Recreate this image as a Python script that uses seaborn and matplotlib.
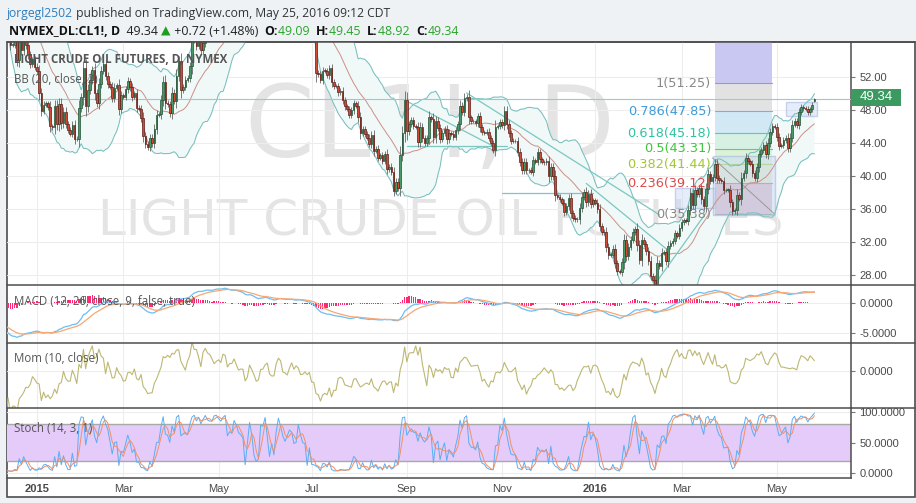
import numpy as np
import pandas as pd
import matplotlib
matplotlib.use("Agg")
import matplotlib.pyplot as plt
import seaborn as sns
from matplotlib.patches import Rectangle
from matplotlib.lines import Line2D
from matplotlib.text import Annotation

# ------------------------------------------------------------------ data
close_2014_10 = [90.73, 91.01, 89.74, 90.34, 88.85, 87.31, 85.77, 85.82, 85.74, 81.84, 81.78, 82.70,
                 82.75, 82.71, 82.49, 80.52, 82.09, 81.01, 81.00, 81.42, 82.20, 81.12, 80.54]
close_2014_11 = [78.78, 77.19, 78.68, 77.91, 78.65, 77.40, 77.94, 77.18, 74.21, 75.82, 75.64, 74.61,
                 74.58, 75.58, 76.51, 75.78, 74.09, 73.69, 66.15]
close_2014_12 = [69.00, 66.88, 67.38, 66.81, 65.84, 63.05, 63.82, 60.94, 59.95, 57.81, 55.91, 55.93,
                 56.47, 54.11, 57.13, 55.26, 57.12, 55.84, 54.73, 53.61, 54.12, 53.27]
close_2015_01 = [52.69, 50.04, 47.93, 48.65, 48.79, 48.36, 46.07, 45.89, 48.48, 46.25, 48.69, 46.39,
                 47.78, 46.31, 45.59, 45.15, 46.23, 44.45, 44.53, 48.24]
close_2015_02 = [49.57, 53.05, 48.45, 50.48, 51.69, 52.86, 50.02, 48.84, 51.21, 52.78, 53.53, 52.14,
                 51.16, 50.81, 49.45, 50.72, 51.00, 48.17, 49.76]
close_2015_03 = [49.59, 50.52, 51.53, 50.76, 49.61, 50.00, 48.29, 48.17, 47.05, 44.84, 43.88, 43.46,
                 44.66, 43.96, 45.72, 47.45, 47.51, 49.21, 51.43, 48.87, 48.68, 47.60]
close_2015_04 = [50.09, 49.14, 52.14, 53.98, 50.42, 50.79, 51.64, 51.91, 53.29, 56.39, 56.71, 55.74,
                 56.38, 55.26, 56.16, 57.74, 57.15, 56.99, 57.06, 58.58, 59.63]
close_2015_05 = [59.15, 58.93, 60.40, 60.93, 58.94, 59.39, 59.25, 60.75, 60.50, 59.88, 59.69, 59.43,
                 57.26, 58.98, 60.72, 59.72, 58.03, 57.51, 57.68, 60.30]
close_2015_06 = [60.20, 61.26, 59.64, 58.00, 59.13, 58.14, 60.14, 61.43, 60.77, 59.96, 59.52, 59.97,
                 60.45, 60.45, 59.61, 59.68, 61.01, 60.27, 59.70, 59.63, 58.33, 59.47]
close_2015_07 = [56.96, 56.93, 52.53, 52.33, 51.65, 52.78, 52.74, 52.20, 53.04, 51.41, 50.91, 50.89,
                 50.15, 50.36, 49.19, 48.45, 48.14, 47.39, 47.98, 48.79, 48.52, 47.12]
close_2015_08 = [45.17, 45.74, 45.15, 44.66, 43.87, 44.96, 43.08, 43.30, 42.23, 42.50, 41.87, 42.62,
                 40.80, 41.14, 40.45, 38.24, 39.31, 38.60, 42.56, 45.22, 49.20]
close_2015_09 = [45.41, 46.25, 46.75, 46.05, 45.94, 44.15, 45.92, 44.63, 44.00, 44.59, 47.15, 46.90,
                 44.68, 46.68, 45.83, 44.48, 45.22, 45.70, 44.43, 45.23, 45.09]
close_2015_10 = [44.74, 45.54, 46.26, 48.53, 47.81, 49.43, 49.63, 47.10, 46.66, 46.64, 46.38, 47.26,
                 45.89, 45.29, 45.20, 45.38, 44.60, 43.98, 43.20, 45.94, 46.06, 46.59]
close_2015_11 = [46.14, 47.90, 46.32, 45.20, 44.29, 44.21, 44.21, 42.93, 41.75, 40.74, 41.74, 40.67,
                 40.75, 40.54, 41.90, 41.75, 42.87, 42.04, 41.71, 41.65]
close_2015_12 = [41.85, 39.94, 41.08, 39.97, 37.65, 37.51, 37.16, 36.76, 35.62, 36.31, 37.35, 35.52,
                 34.95, 34.73, 34.74, 36.14, 37.50, 38.10, 36.81, 37.87, 36.60, 37.04]
close_2016_01 = [36.76, 35.97, 33.97, 33.27, 33.16, 31.41, 30.44, 30.48, 31.20, 29.42, 28.46, 28.35,
                 29.53, 32.19, 30.34, 31.45, 32.30, 33.22, 33.62]
close_2016_02 = [31.62, 29.88, 32.28, 31.72, 30.89, 29.69, 27.94, 27.45, 26.21, 29.44, 29.04, 30.66,
                 30.77, 29.64, 31.48, 31.87, 32.15, 33.07, 32.78, 33.75]
close_2016_03 = [34.40, 34.66, 34.57, 35.92, 37.90, 36.50, 38.29, 37.84, 38.50, 37.18, 36.34, 38.46,
                 40.20, 39.44, 39.91, 41.45, 39.79, 39.46, 39.39, 38.28, 38.32, 38.34]
close_2016_04 = [36.79, 35.70, 35.89, 37.75, 37.26, 39.72, 40.36, 42.17, 41.76, 41.50, 40.36, 39.78,
                 41.08, 42.63, 43.18, 43.73, 42.64, 44.04, 45.33, 46.03, 45.92]
close_2016_05 = [44.78, 43.65, 43.78, 44.32, 44.66, 43.44, 44.66, 46.23, 46.70, 46.21, 47.72, 48.31,
                 48.19, 48.16, 47.75, 48.08, 48.62, 49.34]

last_ohlc = {"O": 49.09, "H": 49.45, "L": 48.92, "C": 49.34}
change_text = "+0.72 (+1.48%)"

holidays = ["2014-11-27", "2014-12-25", "2015-01-01", "2015-01-19", "2015-02-16", "2015-04-03",
            "2015-05-25", "2015-07-03", "2015-09-07", "2015-11-26", "2015-12-25", "2016-01-01",
            "2016-01-18", "2016-02-15", "2016-03-25"]

tick_dates = ["2015-01-02", "2015-03-02", "2015-05-01", "2015-07-01", "2015-09-01", "2015-11-02",
              "2016-01-04", "2016-03-01", "2016-05-02"]
tick_labels = ["2015", "Mar", "May", "Jul", "Sep", "Nov", "2016", "Mar", "May"]
price_ticks = [28, 32, 36, 40, 44, 48, 52]

fib_low, fib_high = 35.38, 51.2455
fib_levels = [0, 0.236, 0.382, 0.5, 0.618, 0.786, 1]
fib_span = ("2016-03-22", "2016-04-28")

# ------------------------------------------------------------------ build series
closes = np.array(close_2014_10 + close_2014_11 + close_2014_12 + close_2015_01 + close_2015_02 +
                  close_2015_03 + close_2015_04 + close_2015_05 + close_2015_06 + close_2015_07 +
                  close_2015_08 + close_2015_09 + close_2015_10 + close_2015_11 + close_2015_12 +
                  close_2016_01 + close_2016_02 + close_2016_03 + close_2016_04 + close_2016_05)
dates = pd.bdate_range("2014-10-01", "2016-05-25", freq="C", holidays=holidays)
assert len(dates) == len(closes)
origin = dates.get_loc(pd.Timestamp("2015-01-02"))
x = np.arange(len(closes)) - origin


def xi(d):
    return dates.get_loc(pd.Timestamp(d)) - origin


opens = np.r_[closes[0], closes[:-1]]
opens[-1] = last_ohlc["O"]
body_top = np.maximum(opens, closes)
body_bot = np.minimum(opens, closes)
wick_pad = 0.25 + 0.2 * (body_top - body_bot)
highs = body_top + wick_pad
lows = body_bot - wick_pad
highs[-1], lows[-1] = last_ohlc["H"], last_ohlc["L"]

s = pd.Series(closes)
basis = s.rolling(20).mean()
dev = s.rolling(20).std(ddof=0)
upper, lower = basis + 2 * dev, basis - 2 * dev
ema12 = s.ewm(span=12, adjust=False).mean()
ema26 = s.ewm(span=26, adjust=False).mean()
macd = ema12 - ema26
signal = macd.ewm(span=9, adjust=False).mean()
hist = macd - signal
mom = s - s.shift(10)
ll = pd.Series(lows).rolling(14).min()
hh = pd.Series(highs).rolling(14).max()
k = 100 * (s - ll) / (hh - ll)
d = k.rolling(3).mean()

df = pd.DataFrame({"x": x, "close": closes, "basis": basis, "upper": upper, "lower": lower,
                   "macd": macd, "signal": signal, "hist": hist, "mom": mom, "k": k, "d": d})

# ------------------------------------------------------------------ figure
sns.set_theme(style="white")
plt.rcParams["font.family"] = ["Open Sans", "DejaVu Sans"]

W, H = 916, 503
fig = plt.figure(figsize=(W / 100, H / 100), dpi=100, facecolor="#EEF2F5")


def prect(x0, y0, x1, y1):
    return [x0 / W, 1 - y1 / H, (x1 - x0) / W, (y1 - y0) / H]


fig.patches.append(Rectangle((7 / W, 1 - 497 / H), 908 / W, 455 / H, transform=fig.transFigure,
                             facecolor="white", edgecolor="#4D4D4D", lw=1.2, zorder=-10))

XL = (-13.5, 367.5)
GRID = "#EDEDED"
AXC = "#4A4A4A"
tick_x = [xi(t) for t in tick_dates]

ax_main = fig.add_axes(prect(7, 42, 851, 285))
ax_macd = fig.add_axes(prect(7, 285, 851, 343))
ax_mom = fig.add_axes(prect(7, 343, 851, 408))
ax_sto = fig.add_axes(prect(7, 408, 851, 478))

for a in (ax_main, ax_macd, ax_mom, ax_sto):
    a.set_zorder(1)
    a.set_facecolor("none")
    a.set_xlim(*XL)
    a.set_xticks(tick_x)
    a.grid(True, color=GRID, lw=0.8, zorder=0)
    a.set_axisbelow(True)
    for sp in ("top", "bottom", "left"):
        a.spines[sp].set_visible(False)
    a.spines["right"].set_color("#4D4D4D")
    a.spines["right"].set_linewidth(1.1)
    a.yaxis.tick_right()
    a.tick_params(axis="y", length=3, width=0.8, color="#777777", pad=3, labelsize=8,
                  labelcolor=AXC, right=True, left=False)
    a.tick_params(axis="x", length=0)
for a in (ax_main, ax_macd, ax_mom):
    a.set_xticklabels([])

# ---------------- main pane
ax = ax_main
ax.text(0.501, 0.638, "CL1!, D", transform=ax.transAxes, ha="center", va="center",
        fontsize=72, color="#E4E4E4", family="DejaVu Sans", zorder=0.5)
ax.text(0.514, 0.262, "LIGHT CRUDE OIL FUTURES", transform=ax.transAxes, ha="center", va="center",
        fontsize=36, color="#E4E4E4", family="DejaVu Sans", zorder=0.5)

# fibonacci retracement drawing
fx0, fx1 = xi(fib_span[0]), xi(fib_span[1])
fib_prices = [fib_low + lv * (fib_high - fib_low) for lv in fib_levels]
fib_fill = ["#DBBFCB", "#E3EDD3", "#DCF1D9", "#D6F0E4", "#D2E8F5", "#E2E2E2"]
fib_line = ["#9E9E9E", "#E57373", "#B3D05A", "#66CC66", "#4DD0B0", "#64B5F6", "#9E9E9E"]
fib_text = ["#888888", "#E04848", "#A2C733", "#3DC63D", "#2EC4A0", "#3D9BDB", "#888888"]
for i in range(len(fib_levels) - 1):
    ax.fill_between([fx0, fx1], fib_prices[i], fib_prices[i + 1], color=fib_fill[i], lw=0, zorder=1.2)
ax.fill_between([fx0, fx1], fib_high, 60, color="#C8C8F2", lw=0, zorder=1.2)
for lv, p, lc, tc in zip(fib_levels, fib_prices, fib_line, fib_text):
    ax.plot([fx0, fx1], [p, p], color=lc, lw=0.8, zorder=1.3)
    ax.text(fx0 - 1.6, p, f"{lv:g}({p:.2f})", ha="right", va="center", fontsize=9.3,
            color=tc, family="DejaVu Sans", zorder=6)

# bollinger bands
ax.fill_between(df["x"], df["lower"], df["upper"], color="#F0F8F8", lw=0, zorder=1)
sns.lineplot(data=df, x="x", y="upper", ax=ax, color="#78BFBF", lw=0.75, zorder=2)
sns.lineplot(data=df, x="x", y="lower", ax=ax, color="#78BFBF", lw=0.75, zorder=2)
sns.lineplot(data=df, x="x", y="basis", ax=ax, color="#CC9088", lw=0.7, zorder=2)

# user drawings (rectangles and trend lines)
rects = [("2016-02-25", "2016-03-22", 36.12, 38.55), ("2016-03-21", "2016-04-29", 35.27, 42.42),
         ("2016-05-06", "2016-05-26", 47.27, 48.97)]
for d0, d1, p0, p1 in rects:
    xa = xi(d0)
    xb = xi(d1) if pd.Timestamp(d1) <= dates[-1] else xi(dates[-1].strftime("%Y-%m-%d")) + 1
    ax.add_patch(Rectangle((xa, p0), xb - xa, p1 - p0, facecolor="#C9D8F4", alpha=0.45,
                           edgecolor="#8FA6DA", lw=1.0, zorder=1.5))
ax.plot([xi("2016-03-21"), xi("2016-04-29")], [42.2, 35.4], color="#9A9A9A", lw=0.7, zorder=1.6)
trend = [(("2015-08-31", 49.2), ("2015-10-26", 43.76)),
         (("2015-09-01", 43.64), ("2015-11-04", 43.64)),
         (("2015-10-09", 50.06), ("2016-02-16", 35.3)),
         (("2015-11-02", 37.88), ("2015-12-31", 37.88)),
         (("2015-12-28", 39.1), ("2016-02-19", 31.2)),
         (("2016-02-11", 26.9), ("2016-03-16", 35.5))]
for (d0, p0), (d1, p1) in trend:
    ax.plot([xi(d0), xi(d1)], [p0, p1], color="#7CC7C1", lw=0.9, zorder=2.5)

# candles
up = closes >= opens
h = np.maximum(body_top - body_bot, 0.06)
ax.vlines(x, lows, highs, color="#666666", lw=0.6, zorder=3)
ax.bar(x[up], h[up], bottom=body_bot[up], width=0.72, color="#4A9A68", edgecolor="#1F5234",
       lw=0.5, zorder=4)
ax.bar(x[~up], h[~up], bottom=body_bot[~up], width=0.72, color="#D14A36", edgecolor="#601B12",
       lw=0.5, zorder=4)

# last price line
ax.axhline(closes[-1], color="#8FD0CA", lw=0.8, zorder=2.6)

ax.text(0.0083, 0.926, "LIGHT CRUDE OIL FUTURES, D, NYMEX", transform=ax.transAxes, fontsize=8.3,
        fontweight="bold", color="#555555", va="center", zorder=7)
ax.text(0.0083, 0.844, "BB (20, close, 2)", transform=ax.transAxes, fontsize=8.3,
        color="#555555", va="center", zorder=7)
ax.set_xlim(*XL)
ax.set_ylim(26.79, 56.24)
ax.set_yticks(price_ticks)
ax.set_yticklabels([f"{p:.2f}" for p in price_ticks], family="Liberation Sans")
ax.set_xlabel(""); ax.set_ylabel("")

# ---------------- MACD pane
ax = ax_macd
ax.bar(df["x"], df["hist"], width=0.6, color="#FF2A72", lw=0, zorder=2)
sns.lineplot(data=df, x="x", y="macd", ax=ax, color="#6CBEF4", lw=0.9, zorder=3)
sns.lineplot(data=df, x="x", y="signal", ax=ax, color="#F6A774", lw=0.9, zorder=3)
ax.text(0.0083, 0.724, "MACD (12, 26, close, 9, false, true)", transform=ax.transAxes, fontsize=8.3,
        color="#555555", va="center", zorder=7)
ax.set_xlim(*XL)
ax.set_ylim(-6.67, 3.0)
ax.set_yticks([0, -5])
ax.set_yticklabels(["0.0000", "-5.0000"], family="Liberation Sans")
ax.set_xlabel(""); ax.set_ylabel("")

# ---------------- Momentum pane
ax = ax_mom
sns.lineplot(data=df, x="x", y="mom", ax=ax, color="#BDB874", lw=0.8, zorder=3)
ax.text(0.0083, 0.754, "Mom (10, close)", transform=ax.transAxes, fontsize=8.3,
        color="#555555", va="center", zorder=7)
ax.set_xlim(*XL)
ax.set_ylim(-11.5, 8.6)
ax.set_yticks([0])
ax.set_yticklabels(["0.0000"], family="Liberation Sans")
ax.set_xlabel(""); ax.set_ylabel("")

# ---------------- Stochastic pane
ax = ax_sto
ax.axhspan(20, 80, color="#E5CBF9", lw=0, zorder=1)
ax.axhline(80, color="#A9A9A9", lw=1.0, zorder=1.5)
ax.axhline(20, color="#A9A9A9", lw=1.0, zorder=1.5)
sns.lineplot(data=df, x="x", y="k", ax=ax, color="#5AAEF4", lw=0.7, zorder=3)
sns.lineplot(data=df, x="x", y="d", ax=ax, color="#F29065", lw=0.7, zorder=3)
ax.text(0.0083, 0.714, "Stoch (14, 3, 1)", transform=ax.transAxes, fontsize=8.3,
        color="#555555", va="center", zorder=7)
ax.set_xlim(*XL)
ax.set_ylim(-8.2, 106.6)
ax.set_yticks([0, 50, 100])
ax.set_yticklabels(["0.0000", "50.0000", "100.0000"], family="Liberation Sans")
ax.set_xticks(tick_x)
ax.set_xticklabels(tick_labels, family="Liberation Sans", fontsize=8, color=AXC)
for lab, txt in zip(ax.get_xticklabels(), tick_labels):
    if txt.isdigit():
        lab.set_fontweight("bold")
ax.tick_params(axis="x", pad=4)
ax.set_xlabel(""); ax.set_ylabel("")
ax.spines["bottom"].set_visible(True)
ax.spines["bottom"].set_color("#4D4D4D")
ax.spines["bottom"].set_linewidth(1.1)

# pane separators across full width
for yy in (42, 285, 343, 408):
    fig.add_artist(Line2D([7 / W, 915 / W], [1 - yy / H] * 2, transform=fig.transFigure,
                          color="#4D4D4D", lw=1.1, zorder=10))

# last price tag
fig.add_artist(Rectangle((852 / W, 1 - 106 / H), 49 / W, 17 / H, transform=fig.transFigure,
                         facecolor="#3C9A60", edgecolor="none", zorder=11))
fig.text(876.5 / W, 1 - 97.5 / H, f"{closes[-1]:.2f}", ha="center", va="center", color="white",
         fontsize=9.5, family="Liberation Sans", zorder=12)


# ---------------- header
def chain(parts, x0, y0):
    t = None
    for txt, col, wt, fs, fam in parts:
        kw = dict(color=col, fontweight=wt, fontsize=fs, family=fam, ha="left", va="bottom")
        if t is None:
            t = fig.text(x0 / W, 1 - y0 / H, txt, **kw)
        else:
            t = fig.add_artist(Annotation(txt, xy=(1, 0), xycoords=t, annotation_clip=False, **kw))
    return t


OS = ["Open Sans", "DejaVu Sans"]
GRN = "#2AA52A"
chain([("jorgegl2502", "#2C7DBE", "normal", 8.7, OS),
       (" published on TradingView.com, May 25, 2016 09:12 CDT", "#333333", "normal", 8.7, OS)],
      7, 20)
chain([("NYMEX_DL:CL1!, D", "#111111", "bold", 8.9, OS),
       (f"  {closes[-1]:.2f} ", "#222222", "normal", 8.9, OS),
       ("▲", "#1E9E1E", "normal", 8.9, ["DejaVu Sans"]),
       (" " + change_text + "  ", "#222222", "normal", 8.9, OS),
       ("O:", "#111111", "bold", 8.9, OS), (f"{last_ohlc['O']:.2f}  ", GRN, "normal", 8.9, OS),
       ("H:", "#111111", "bold", 8.9, OS), (f"{last_ohlc['H']:.2f}  ", GRN, "normal", 8.9, OS),
       ("L:", "#111111", "bold", 8.9, OS), (f"{last_ohlc['L']:.2f}  ", GRN, "normal", 8.9, OS),
       ("C:", "#111111", "bold", 8.9, OS), (f"{last_ohlc['C']:.2f}", GRN, "normal", 8.9, OS)],
      9, 38)

fig.savefig("out.png", dpi=100, facecolor=fig.get_facecolor())
